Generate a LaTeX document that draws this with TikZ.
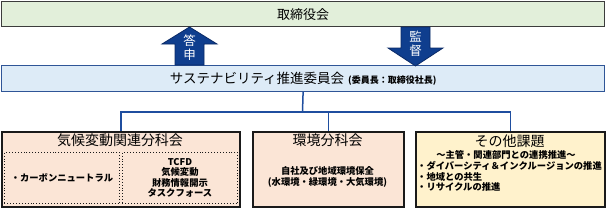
\documentclass[tikz,border=0pt]{standalone}
\usepackage{fontspec}
\setmainfont{Noto Sans CJK JP}
\usepackage{xcolor}
\usetikzlibrary{positioning}
\definecolor{cBoard}{HTML}{E2EFDA}
\definecolor{cComm}{HTML}{DDEBF7}
\definecolor{cCommEdge}{HTML}{2F5597}
\definecolor{cPeach}{HTML}{FBE5D6}
\definecolor{cCream}{HTML}{FFF2CC}
\definecolor{cNavy}{HTML}{0F3E8E}
\definecolor{cNavyEdge}{HTML}{0A2A66}
\definecolor{cLink}{HTML}{1F4E9F}
\definecolor{cEdge}{HTML}{1A1A1A}
\begin{document}
\begin{tikzpicture}[x=1pt, y=-1pt,
  frame/.style={anchor=north west, inner sep=0pt, align=center},
  board/.style={frame, draw=cEdge!85, line width=1.4pt, fill=cBoard,
                font=\fontsize{13}{15}\selectfont},
  comm/.style={frame, draw=cCommEdge, line width=1.2pt, fill=cComm},
  group/.style={frame, draw=cEdge, line width=1.7pt, minimum height=75pt},
  dotbox/.style={frame, draw=cEdge, dotted, line width=0.9pt, minimum width=115pt,
                 minimum height=51pt, font=\fontsize{9.3}{10.5}\selectfont\bfseries},
  ttl/.style={inner sep=0pt, font=\fontsize{14}{16}\selectfont},
  txt/.style={inner sep=0pt, align=center, font=\fontsize{9.3}{10.5}\selectfont\bfseries},
  blk/.style={fill=cNavy, draw=cNavyEdge, line width=0.8pt, line join=miter},
  blklbl/.style={inner sep=0pt, align=center, text=white,
                 font=\fontsize{12.5}{14.5}\selectfont},
  link/.style={draw=cLink, line width=1.5pt}]
\useasboundingbox (0,0) rectangle (606,207);
\node[board, minimum width=603pt, minimum height=25pt] (board) at (1,1) {取締役会};
\node[comm, minimum width=603pt, minimum height=26pt] (comm) at (1,65)
  {{\fontsize{13.5}{16}\selectfont サステナビリティ推進委員会}\hspace{4pt}{\fontsize{9}{10}\selectfont\bfseries (委員長：取締役社長)}};
\node[group, fill=cPeach, minimum width=238pt] (climate) at (1,131) {};
\node[group, fill=cPeach, minimum width=151pt] (env) at (252,131) {};
\node[group, fill=cCream, minimum width=189pt] (other) at (415,131) {};
% block arrows
\draw[blk] (175,65) -- (175,44) -- (162,44) -- (189.5,27) -- (217,44) -- (204,44) -- (204,65) -- cycle;
\node[blklbl] (reply) at (189.5,47.5) {答\\申};
\draw[blk] (401,27) -- (401,48) -- (388,48) -- (415.5,66) -- (443,48) -- (430,48) -- (430,27) -- cycle;
\node[blklbl] (audit) at (415.5,44) {監\\督};
% links
\coordinate (hub) at (302.5,112);
\draw[link] (comm.south) -- (hub);
\foreach \b in {climate, env, other} \draw[link] (hub) -| (\b.north);
% climate group
\node[ttl] (climateT) at (120,140) {気候変動関連分科会};
\node[dotbox] (cfL) at (4,152) {・カーボンニュートラル};
\node[dotbox] (cfR) at (122,152) {TCFD\\気候変動\\財務情報開示\\タスクフォース};
% environment group
\node[ttl] (envT) at (327.5,140) {環境分科会};
\node[txt] (envB) at (327.5,177) {自社及び地域環境保全\\(水環境・緑環境・大気環境)};
% other group
\node[ttl] (otherT) at (509.5,141) {その他課題};
\node[txt] (otherS) at (506,155) {～主管・関連部門との連携推進～};
\node[txt, align=left, anchor=west] (otherB) at (417,176.5)
  {・ダイバーシティ＆インクルージョンの推進\\・地域との共生\\・リサイクルの推進};
\end{tikzpicture}
\end{document}
